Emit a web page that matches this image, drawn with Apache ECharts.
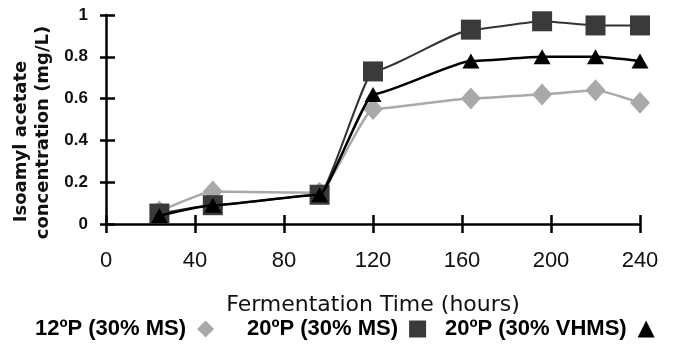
<!DOCTYPE html>
<html>
<head>
<meta charset="utf-8">
<script src="https://cdn.jsdelivr.net/npm/echarts@6/dist/echarts.min.js"></script>
<style>
html,body{margin:0;padding:0;background:#fff;}
#chart{width:675px;height:354px;}
</style>
</head>
<body>
<div id="chart"></div>
<script>
var hours = [24, 48, 96, 120, 164, 196, 220, 240];
var ms12 = [0.06, 0.155, 0.15, 0.55, 0.60, 0.62, 0.64, 0.58];
var ms20 = [0.05, 0.09, 0.14, 0.73, 0.93, 0.97, 0.95, 0.95];
var vhms20 = [0.04, 0.09, 0.14, 0.62, 0.78, 0.80, 0.80, 0.78];
var seriesNames = ['12\u00BAP (30% MS)', '20\u00BAP (30% MS)', '20\u00BAP (30% VHMS)'];
var seriesIcons = ['diamond', 'rect', 'triangle'];
var seriesColors = ['#a9a9a9', '#3a3a3a', '#000000'];
var xTicks = [0, 40, 80, 120, 160, 200, 240];
var yTicks = [0, 0.2, 0.4, 0.6, 0.8, 1];
var xAxisTitle = 'Fermentation Time (hours)';
var yAxisTitleLines = ['Isoamyl acetate', 'concentration (mg/L)'];

function pairs(vals){ return hours.map(function(h,i){ return [h, vals[i]]; }); }

var legendLefts = [35, 247, 445];
var legends = seriesNames.map(function(n, i){
  return {
    left: legendLefts[i], top: 318, align: 'right', padding: 0, itemWidth: 17, itemHeight: 17,
    textStyle: {fontFamily: "'Liberation Sans', Arial, sans-serif", fontWeight: 'bold', fontSize: 22, color: '#000', padding: [0, 6, 0, 0]},
    data: [{name: n, icon: seriesIcons[i], itemStyle: {color: seriesColors[i]}}]
  };
});

var yTitlePos = [[21.5, 141.5], [43.5, 132.5]];
var graphics = yAxisTitleLines.map(function(t, i){
  return {
    type: 'text', x: yTitlePos[i][0], y: yTitlePos[i][1], rotation: Math.PI / 2,
    style: {text: t, fill: '#111', align: 'center', verticalAlign: 'middle',
      font: "bold 18px 'DejaVu Sans', sans-serif"}
  };
});

var chart = echarts.init(document.getElementById('chart'), null, {renderer:'canvas'});
var axisCol = '#000';
var option = {
  backgroundColor: '#fff',
  animation: false,
  grid: {left: 106, right: 35, top: 15, bottom: 130, containLabel: false},
  legend: legends,
  graphic: graphics,
  xAxis: [{
    type: 'value', min: 0, max: 240, interval: 40,
    name: xAxisTitle, nameLocation: 'middle', nameGap: 70,
    nameTextStyle: {fontFamily: "'DejaVu Sans', sans-serif", fontSize: 22, color: '#111'},
    axisLine: {show: true, onZero: false, lineStyle: {color: axisCol, width: 2.5}},
    axisTick: {show: true, inside: false, length: 9, lineStyle: {color: axisCol, width: 2.5}},
    axisLabel: {margin: 26, fontFamily: "'Liberation Sans', Arial, sans-serif", fontSize: 22, color: '#111'},
    splitLine: {show: false}
  }, {
    type: 'value', min: 0, max: 240, interval: 40, position: 'bottom', offset: 0,
    axisLine: {show: false}, axisLabel: {show: false}, splitLine: {show: false},
    axisTick: {show: true, inside: true, length: 9, lineStyle: {color: axisCol, width: 2.5}}
  }],
  yAxis: [{
    type: 'value', min: 0, max: 1, interval: 0.2,
    axisLine: {show: true, onZero: false, lineStyle: {color: axisCol, width: 2.5}},
    axisTick: {show: true, inside: false, length: 6, lineStyle: {color: axisCol, width: 2.5}},
    axisLabel: {margin: 18, fontFamily: "'Liberation Sans', Arial, sans-serif", fontWeight: 'bold', fontSize: 17, color: '#111',
      formatter: function(v){ return String(Math.round(v*10)/10); }},
    splitLine: {show: false}
  }, {
    type: 'value', min: 0, max: 1, interval: 0.2, position: 'left', offset: 0,
    axisLine: {show: false}, axisLabel: {show: false}, splitLine: {show: false},
    axisTick: {show: true, inside: true, length: 9, lineStyle: {color: axisCol, width: 2.5}}
  }],
  series: [
    {name: seriesNames[0], type: 'line', data: pairs(ms12), z: 2, smooth: 0.15, smoothMonotone: 'x',
     symbol: 'diamond', symbolSize: [20, 22], itemStyle: {color: seriesColors[0]}, lineStyle: {color: seriesColors[0], width: 2.5}},
    {name: seriesNames[1], type: 'line', data: pairs(ms20), z: 3, smooth: 0.15, smoothMonotone: 'x',
     symbol: 'rect', symbolSize: 20, itemStyle: {color: seriesColors[1]}, lineStyle: {color: '#333', width: 2}},
    {name: seriesNames[2], type: 'line', data: pairs(vhms20), z: 4, smooth: 0.15, smoothMonotone: 'x',
     symbol: 'triangle', symbolSize: [17, 15], itemStyle: {color: seriesColors[2]}, lineStyle: {color: seriesColors[2], width: 2.5}}
  ]
};
chart.setOption(option);
</script>
</body>
</html>
